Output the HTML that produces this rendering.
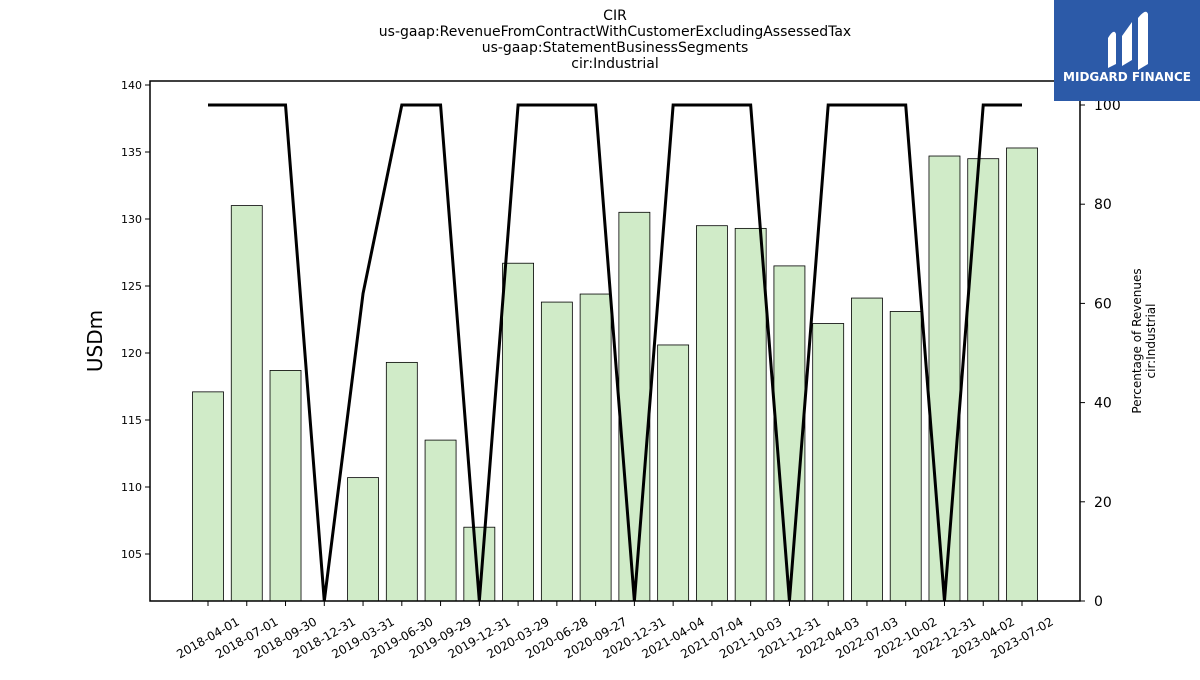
<!DOCTYPE html>
<html><head><meta charset="utf-8"><style>
body{margin:0;background:#fff;}
svg text{font-family:"DejaVu Sans","Liberation Sans",sans-serif;}
</style></head><body>
<svg id="chart" width="1200" height="675" xmlns="http://www.w3.org/2000/svg">
<g font-size="14" text-anchor="middle" fill="#000">
<text x="615" y="20">CIR</text>
<text x="615" y="36">us-gaap:RevenueFromContractWithCustomerExcludingAssessedTax</text>
<text x="615" y="52">us-gaap:StatementBusinessSegments</text>
<text x="615" y="68">cir:Industrial</text>
</g>
<g id="bars"></g>
<g id="line"></g>
<g id="axes"></g>
<text x="102" y="341" font-size="20" text-anchor="middle" transform="rotate(-90 102 341)">USDm</text>
<text font-size="12" text-anchor="middle" transform="translate(1141 341) rotate(-90)"><tspan x="0" y="0">Percentage of Revenues</tspan><tspan x="0" y="14">cir:Industrial</tspan></text>
<g>
<rect x="1054" y="0" width="146" height="101" fill="#2c5aa8"/>
<path d="M1108 68 L1108 38 Q1114 28 1116 34 L1116 64 Z M1122 66 L1122 36 L1132 22 L1132 60 Z M1138 70 L1138 18 Q1146 8 1148 14 L1148 64 Z" fill="#fff"/>
<text x="1127" y="81" font-size="12" font-weight="bold" fill="#fff" text-anchor="middle">MIDGARD FINANCE</text>
</g>
</svg>
<script>
const categories=["2018-04-01","2018-07-01","2018-09-30","2018-12-31","2019-03-31","2019-06-30","2019-09-29","2019-12-31","2020-03-29","2020-06-28","2020-09-27","2020-12-31","2021-04-04","2021-07-04","2021-10-03","2021-12-31","2022-04-03","2022-07-03","2022-10-02","2022-12-31","2023-04-02","2023-07-02"];
const revenue=[117.1,131.0,118.7,null,110.7,119.3,113.5,107.0,126.7,123.8,124.4,130.5,120.6,129.5,129.3,126.5,122.2,124.1,123.1,134.7,134.5,135.3];
const pct=[100,100,100,0,62,100,100,0,100,100,100,0,100,100,100,0,100,100,100,0,100,100];
const leftTicks=[105,110,115,120,125,130,135,140];
const rightTicks=[0,20,40,60,80,100];
const NS="http://www.w3.org/2000/svg";
const L=150,R=1080,T=81,B=601;
const x=i=>208+i*(1022-208)/(categories.length-1);
const y=v=>554-(v-105)*(554-85)/35;
const y2=v=>601-v*(601-105)/100;
function mk(t,a,p){const e=document.createElementNS(NS,t);for(const k in a)e.setAttribute(k,a[k]);p.appendChild(e);return e;}
const bars=document.getElementById('bars');
revenue.forEach((v,i)=>{if(v==null)return;const r=mk('rect',{x:x(i)-15.5,y:y(v),width:31,height:B-y(v),fill:'#d0ebc8',stroke:'#000','stroke-width':0.8},bars);

});
const lg=document.getElementById('line');
const pl=mk('polyline',{points:pct.map((v,i)=>x(i)+','+y2(v)).join(' '),fill:'none',stroke:'#000','stroke-width':3},lg);


const ax=document.getElementById('axes');
mk('rect',{x:L,y:T,width:R-L,height:B-T,fill:'none',stroke:'#000','stroke-width':1.5},ax);
leftTicks.forEach(v=>{mk('line',{x1:L-5,x2:L,y1:y(v),y2:y(v),stroke:'#000'},ax);
const t=mk('text',{x:L-8,y:y(v)+4,'font-size':11,'text-anchor':'end'},ax);t.textContent=v;

});
rightTicks.forEach(v=>{mk('line',{x1:R,x2:R+5,y1:y2(v),y2:y2(v),stroke:'#000'},ax);
const t=mk('text',{x:R+14,y:y2(v)+5,'font-size':14},ax);t.textContent=v;

});
categories.forEach((c,i)=>{mk('line',{x1:x(i),x2:x(i),y1:B,y2:B+5,stroke:'#000'},ax);
const t=mk('text',{'font-size':12,'text-anchor':'middle',transform:`translate(${x(i)} ${B+37}) rotate(-30)`,dy:'4'},ax);t.textContent=c;

});
</script>
</body></html>
